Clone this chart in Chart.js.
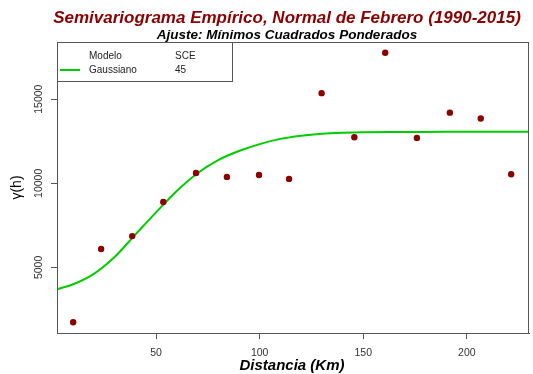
<!DOCTYPE html>
<html lang="es">
<head>
  <meta charset="UTF-8" />
  <title>Semivariograma Empírico, Normal de Febrero</title>
  <script src="https://cdn.jsdelivr.net/npm/chart.js"></script>
  <style>
    html, body { margin: 0; padding: 0; background: #fff; }
    canvas { display: block; }
  </style>
</head>
<body>
  <canvas id="vario" width="533" height="374"></canvas>

  <script>
    // semivariograma empírico (distancia en km, gamma)
    const lags = [10, 23.5, 38.5, 53.5, 69.3, 84.2, 99.7, 114.2, 129.9, 145.7, 160.6, 175.9, 191.8, 206.7, 221.4];
    const gammaEmp = [1740, 6090, 6860, 8890, 10610, 10380, 10490, 10260, 15360, 12740, 17760, 12700, 14200, 13850, 10540];

    // modelo gaussiano ajustado
    const modelDist = [2, 10, 20, 30, 40, 50, 60, 70, 80, 90, 100, 110, 120, 130, 140, 150, 170, 190, 210, 230];
    const modelGamma = [3690, 4000, 4620, 5620, 6950, 8270, 9540, 10600, 11380, 11920, 12330, 12640, 12830, 12950, 13010, 13040, 13050, 13060, 13060, 13060];

    const xTicks = [50, 100, 150, 200];
    const yTicks = [5000, 10000, 15000];

    const legendHead = ['Modelo', 'SCE'];
    const legendRow = ['Gaussiano', '45'];

    const FONT = '"Liberation Sans", Arial, sans-serif';
    const AXIS = '#555';
    const RED = '#8B0000';
    const GREEN = '#00CD00';

    const decor = {
      id: 'decor',
      beforeDraw(chart) {
        const c = chart.ctx;
        c.save();
        c.fillStyle = '#fff';
        c.fillRect(0, 0, chart.width, chart.height);
        c.restore();
      },
      afterDraw(chart) {
        const c = chart.ctx;
        const a = chart.chartArea;
        const cx = (a.left + a.right) / 2;
        const ys = chart.scales.y;
        c.save();

        // titles
        c.textAlign = 'center';
        c.textBaseline = 'middle';
        c.fillStyle = RED;
        c.font = 'italic bold 17px ' + FONT;
        c.fillText('Semivariograma Empírico, Normal de Febrero (1990-2015)', cx - 6, 18);
        c.fillStyle = '#000';
        c.font = 'italic bold 13.5px ' + FONT;
        c.fillText('Ajuste: Mínimos Cuadrados Ponderados', cx - 6, 35);

        // x axis title
        c.font = 'italic bold 15px ' + FONT;
        c.fillText('Distancia (Km)', cx - 1, 366);

        // box
        c.strokeStyle = AXIS;
        c.lineWidth = 1;
        c.strokeRect(a.left + 0.5, a.top + 0.5, a.right - a.left - 1, a.bottom - a.top);

        // y tick labels, vertical
        c.fillStyle = '#333';
        c.font = '10.5px ' + FONT;
        ys.ticks.forEach(t => {
          const y = ys.getPixelForValue(t.value);
          c.save();
          c.translate(39, y);
          c.rotate(-Math.PI / 2);
          c.fillText(String(t.value), 0, 0);
          c.restore();
        });

        // y axis title
        c.save();
        c.fillStyle = '#000';
        c.font = '14px ' + FONT;
        c.translate(17, (a.top + a.bottom) / 2);
        c.rotate(-Math.PI / 2);
        c.fillText('γ(h)', 0, 0);
        c.restore();

        // legend table
        const lx = a.left, ly = a.top;
        c.fillStyle = '#fff';
        c.fillRect(lx, ly, 175, 39);
        c.strokeRect(lx + 0.5, ly + 0.5, 175, 39);
        c.strokeStyle = GREEN;
        c.lineWidth = 2;
        c.beginPath();
        c.moveTo(lx + 3, ly + 28);
        c.lineTo(lx + 23, ly + 28);
        c.stroke();
        c.fillStyle = '#222';
        c.font = '10px ' + FONT;
        c.textAlign = 'left';
        c.fillText(legendHead[0], lx + 32, ly + 14);
        c.fillText(legendHead[1], lx + 118, ly + 14);
        c.fillText(legendRow[0], lx + 32, ly + 28);
        c.fillText(legendRow[1], lx + 118, ly + 28);

        c.restore();
      }
    };

    new Chart(document.getElementById('vario'), {
      type: 'scatter',
      data: {
        datasets: [
          {
            label: 'Empírico',
            data: lags.map((d, i) => ({ x: d, y: gammaEmp[i] })),
            backgroundColor: RED,
            borderColor: RED,
            pointRadius: 3.2,
            pointHoverRadius: 3.2,
            borderWidth: 0
          },
          {
            label: 'Gaussiano',
            type: 'line',
            data: modelDist.map((d, i) => ({ x: d, y: modelGamma[i] })),
            borderColor: GREEN,
            borderWidth: 2,
            pointRadius: 0,
            fill: false,
            cubicInterpolationMode: 'monotone'
          }
        ]
      },
      options: {
        responsive: false,
        animation: false,
        devicePixelRatio: 1,
        layout: { padding: { top: 42, right: 4, left: 0, bottom: 0 } },
        plugins: {
          legend: { display: false },
          title: { display: false },
          tooltip: { enabled: false }
        },
        scales: {
          x: {
            type: 'linear',
            min: 2.2,
            max: 230,
            afterBuildTicks: s => { s.ticks = xTicks.map(v => ({ value: v })); },
            afterFit: s => { s.height = 41; },
            grid: { drawOnChartArea: false, drawTicks: true, tickLength: 6, color: AXIS },
            border: { display: true, color: AXIS },
            ticks: { color: '#333', padding: 8, font: { family: FONT, size: 10.5 }, maxRotation: 0 }
          },
          y: {
            type: 'linear',
            min: 1100,
            max: 18400,
            afterBuildTicks: s => { s.ticks = yTicks.map(v => ({ value: v })); },
            afterFit: s => { s.width = 57; },
            grid: { drawOnChartArea: false, drawTicks: true, tickLength: 6, color: AXIS },
            border: { display: true, color: AXIS },
            ticks: { color: 'rgba(0,0,0,0)', font: { family: FONT, size: 10.5 } }
          }
        }
      },
      plugins: [decor]
    });
  </script>
</body>
</html>
